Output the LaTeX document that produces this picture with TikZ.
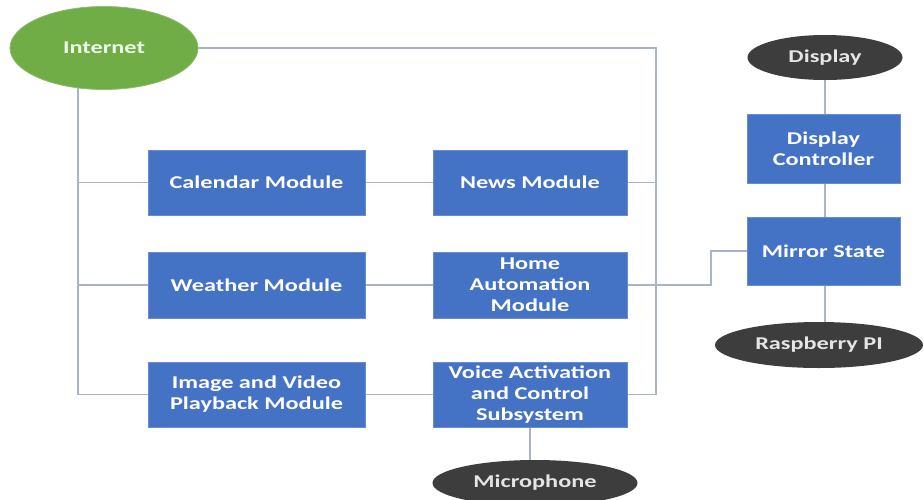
\documentclass[tikz,border=0pt]{standalone}
\usepackage{fontspec}
\setmainfont{Carlito}[FakeStretch=1.35]
\usetikzlibrary{shapes.geometric,backgrounds}
\definecolor{boxblue}{HTML}{4472C4}
\definecolor{boxedge}{HTML}{6A8BD0}
\definecolor{netgreen}{HTML}{70AD47}
\definecolor{darkov}{HTML}{3D3D3D}
\definecolor{wire}{HTML}{A9B4CC}
\tikzset{
  every node/.style={font=\fontsize{18}{21}\selectfont\bfseries},
  modbox/.style={rectangle, fill=boxblue, draw=boxedge, line width=0.8pt, text=white, align=center, inner sep=0pt},
  leftbox/.style={modbox, minimum width=217pt, minimum height=65pt},
  midbox/.style={modbox, minimum width=194pt, minimum height=65pt},
  rightbox/.style={modbox, minimum width=153pt, minimum height=68pt},
  darkoval/.style={ellipse, fill=darkov, text=white!90!black, inner sep=0pt},
  greenoval/.style={ellipse, fill=netgreen, draw=netgreen!80!white, line width=0.8pt, text=white!92!green, inner sep=0pt},
  wireline/.style={draw=wire, line width=1.2pt}
}
\begin{document}
\begin{tikzpicture}[x=1pt, y=-1pt]
\useasboundingbox (0,0) rectangle (924,499);
\clip (0,0) rectangle (924,499);

\node[greenoval, minimum width=188pt, minimum height=83pt] (internet) at (104,48) {Internet};

\node[leftbox] (calendar) at (256.5,182.5) {Calendar Module};
\node[midbox] (news) at (530,182.5) {News Module};
\node[leftbox, minimum height=66pt] (weather) at (256.5,285) {Weather Module};
\node[midbox, minimum height=66pt] (home) at (530,285) {Home\\Automation\\Module};
\node[leftbox] (image) at (256.5,394.5) {Image and Video\\Playback Module};
\node[midbox] (voice) at (530,394.5) {Voice Activation\\and Control\\Subsystem};

\node[darkoval, minimum width=155pt, minimum height=45pt] (display) at (825,57.5) {Display};
\node[rightbox, minimum height=69pt] (dctrl) at (823.5,148.5) {Display\\Controller};
\node[rightbox] (mirror) at (823.5,251) {Mirror State};
\node[darkoval, minimum width=208pt, minimum height=46pt] (rpi) at (819,345) {Raspberry PI};
\node[darkoval, minimum width=205pt, minimum height=46pt] (mic) at (535,483) {Microphone};

\coordinate (lb) at (78,0);
\coordinate (rb) at (656,0);
\coordinate (el) at (711,0);

\begin{pgfonlayer}{background}
\fill[white] (0,0) rectangle (924,499);
\path[wireline] (lb |- internet.center) -- (lb |- image.west) -- (image.west);
\path[wireline] (lb |- calendar.west) -- (calendar.west);
\path[wireline] (lb |- weather.west) -- (weather.west);
\path[wireline] (internet.east) -- (internet.east -| rb) -- (voice.east -| rb) -- (voice.east);
\path[wireline] (news.east) -- (news.east -| rb);
\path[wireline] (calendar.east) -- (news.west);
\path[wireline] (weather.east) -- (home.west);
\path[wireline] (image.east) -- (voice.west);
\path[wireline] (home.east) -- (home.east -| el) |- (mirror.west);
\path[wireline] (voice.south) -- (voice.south |- mic.north);
\path[wireline] (display.south) -- (dctrl.north -| display.south);
\path[wireline] (dctrl.south -| display.south) -- (mirror.north -| display.south);
\path[wireline] (mirror.south -| display.south) -- (rpi.north -| display.south);
\end{pgfonlayer}
\end{tikzpicture}
\end{document}
